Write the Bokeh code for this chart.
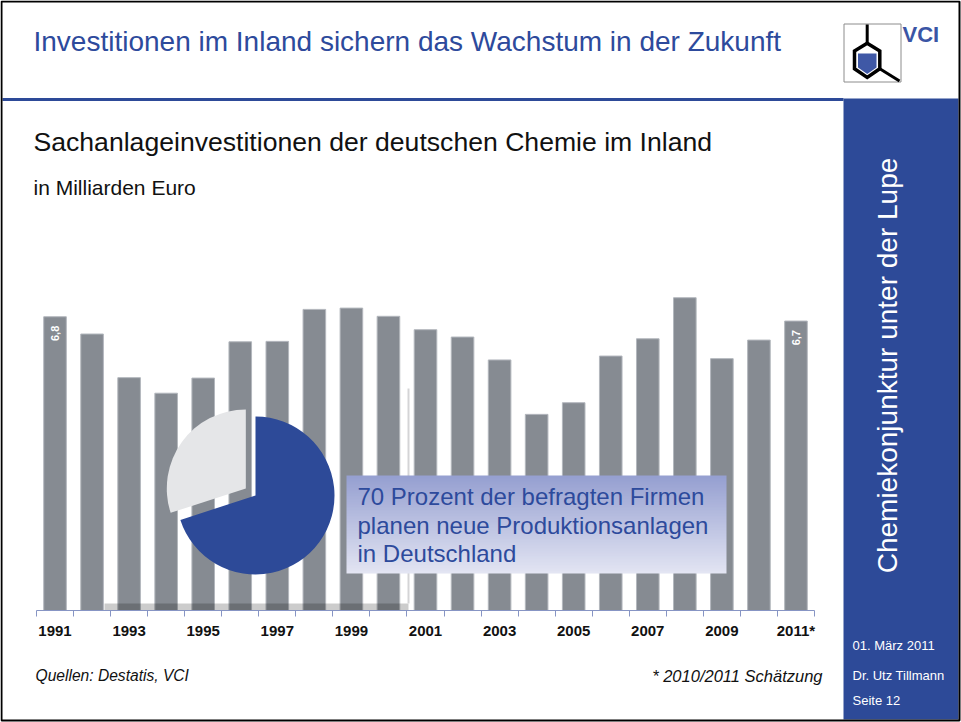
import numpy as np
from math import pi, cos, sin
from bokeh.plotting import figure
from bokeh.models import Range1d, FixedTicker
from bokeh.core.properties import value
from bokeh.embed import file_html
from bokeh.resources import INLINE

# ---------------- data ----------------
years = [1991, 1992, 1993, 1994, 1995, 1996, 1997, 1998, 1999, 2000,
         2001, 2002, 2003, 2004, 2005, 2006, 2007, 2008, 2009, 2010, 2011]
investments = [6.8, 6.40, 5.39, 5.03, 5.38, 6.22, 6.23, 6.97, 7.00, 6.81,
               6.50, 6.33, 5.80, 4.54, 4.81, 5.89, 6.29, 7.24, 5.83, 6.26, 6.7]
tick_years = [1991, 1993, 1995, 1997, 1999, 2001, 2003, 2005, 2007, 2009, 2011]
tick_labels = ["1991", "1993", "1995", "1997", "1999", "2001", "2003",
               "2005", "2007", "2009", "2011*"]
pie_shares = [70, 30]          # Prozent der befragten Firmen
box_lines = ["70 Prozent der befragten Firmen",
             "planen neue Produktionsanlagen",
             "in Deutschland"]

# ---------------- style / layout ----------------
FONT = "Liberation Sans"
BLUE = "#2d4a98"
TITLE_BLUE = "#2d4a9c"
BAR = "#868b92"
W, H = 961, 722
FL, FR, FB = 36, 814, 610           # chart area in page pixels
PX_PER_UNIT = 43.2
X0, X1 = years[0] - 0.5, years[-1] + 0.5
SX = (FR - FL) / (X1 - X0)
SY = PX_PER_UNIT
XS = X0 - FL / SX                    # data x at page x = 0


def dx(px):
    return XS + px / SX


def dy(py):
    return (FB - py) / SY


p = figure(width=W, height=H, x_range=Range1d(dx(0), dx(W)),
           y_range=Range1d(dy(H), dy(0)),
           output_backend="svg", toolbar_location=None, y_axis_location=None,
           min_border=0, background_fill_color="white",
           border_fill_color="white", outline_line_color=None)
p.grid.grid_line_color = None

# bars
p.vbar(x=years, top=investments, width=0.61, bottom=0,
       fill_color=BAR, line_color="#b3b7bd", line_width=1)

# value labels on first and last bar
lab_x = [years[0], years[-1]]
lab_y = [investments[0], investments[-1]]
lab_t = [f"{v:.1f}".replace(".", ",") for v in lab_y]
p.text(x=lab_x, y=lab_y, text=lab_t, angle=pi / 2, text_align="right",
       text_baseline="middle", y_offset=9, text_color="white",
       text_font=value(FONT), text_font_style="bold", text_font_size="11px")

# translucent panel shadow behind pie
p.quad(left=dx(104), right=dx(408), bottom=dy(610), top=dy(603),
       fill_color="black", fill_alpha=0.2, line_color=None)
p.segment(x0=dx(408), y0=dy(388), x1=dx(408), y1=dy(603),
          line_color="#d4d4d6", line_width=2)

# pie chart (70 / 30, second slice exploded)
total = float(sum(pie_shares))
cx, cy = dx(255), dy(495)
start = pi / 2
pie_cols = [BLUE, "#e5e6e8"]
for i, share in enumerate(pie_shares):
    end = start - 2 * pi * share / total
    mid = (start + end) / 2
    off = 0 if i == 0 else 12
    p.wedge(x=[cx + cos(mid) * off / SX], y=[cy + sin(mid) * off / SY],
            radius=79, radius_units="screen", start_angle=start, end_angle=end,
            direction="clock", fill_color=pie_cols[i], line_color=None)
    start = end

# gradient text box
rows = 64
img = np.empty((rows, 1), dtype=np.uint32)
view = img.view(dtype=np.uint8).reshape((rows, 1, 4))
top_c = np.array([150, 160, 209])
bot_c = np.array([227, 229, 243])
for r in range(rows):
    t = r / (rows - 1)
    c = bot_c + (top_c - bot_c) * t
    view[r, 0, 0:3] = c.astype(np.uint8)
    view[r, 0, 3] = 255
p.image_rgba(image=[img], x=dx(346), y=dy(573), dw=dx(726) - dx(346),
             dh=dy(475) - dy(573))
p.text(x=[dx(357)] * 3, y=[dy(496), dy(524.5), dy(553)], text=box_lines,
       text_font=value(FONT), text_font_size="24px", text_color=TITLE_BLUE,
       text_baseline="middle")

# axis (fixed at value 0, limited to the bar range)
ax = p.xaxis[0]
ax.fixed_location = 0
ax.bounds = (X0, X1)
ax.ticker = FixedTicker(ticks=tick_years,
                        minor_ticks=[y - 0.5 for y in years] + [years[-1] + 0.5])
ax.major_label_overrides = dict(zip(tick_years, tick_labels))
ax.axis_line_color = "#8795c4"
ax.major_tick_line_color = None
ax.major_tick_out = 0
ax.major_tick_in = 0
ax.minor_tick_line_color = "#8795c4"
ax.minor_tick_out = 6
ax.minor_tick_in = 0
ax.major_label_standoff = 5
ax.major_label_text_font = FONT
ax.major_label_text_font_size = "15px"
ax.major_label_text_font_style = "bold"
ax.major_label_text_color = "#111111"

# ---------------- slide decorations ----------------
def rect(l, r, t, b, **kw):
    p.quad(left=dx(l), right=dx(r), top=dy(t), bottom=dy(b), **kw)


rect(2, 843, 97.5, 100.5, fill_color=BLUE, line_color=None)        # header rule
rect(843, 958, 98, 719, fill_color=BLUE, line_color=None)           # sidebar
rect(1, 959, 1, 720, fill_alpha=0, line_color="black", line_width=2)  # slide frame

# logo
rect(843.5, 900.5, 23.5, 81.5, fill_alpha=0, line_color="#8c8c8c", line_width=1)
p.patch(x=[dx(v) for v in (857.5, 876, 876, 866.7, 857.5)],
        y=[dy(v) for v in (53, 53, 67, 73.5, 67)],
        fill_color="#3f58a6", line_color=None)
hx = [866.7, 879.3, 879.3, 866.7, 854, 854, 866.7]
hy = [42.7, 50.5, 68.3, 77, 68.3, 50.5, 42.7]
p.line(x=[dx(v) for v in hx], y=[dy(v) for v in hy], line_color="black",
       line_width=3.5, line_join="miter")
p.segment(x0=[dx(866.7), dx(879.3)], y0=[dy(24), dy(68.3)],
          x1=[dx(866.7), dx(899)], y1=[dy(42.7), dy(80.5)],
          line_color="black", line_width=3)


def txt(px, py, s, size, color="#111111", style="normal", align="left",
        baseline="middle", angle=0.0):
    p.text(x=[dx(px)], y=[dy(py)], text=[s], text_font=value(FONT),
           text_font_size=size, text_color=color, text_font_style=style,
           text_align=align, text_baseline=baseline, angle=angle)


txt(902, 34, "VCI", "22px", color="#3a55a5", style="bold")
txt(33, 41, "Investitionen im Inland sichern das Wachstum in der Zukunft", "28px",
    color=TITLE_BLUE)
txt(33, 141.5, "Sachanlageinvestitionen der deutschen Chemie im Inland", "26.6px")
txt(33, 187, "in Milliarden Euro", "21px")
txt(35, 675, "Quellen: Destatis, VCI", "15.6px", style="italic")
txt(822, 675, "* 2010/2011 Schätzung", "16.5px", style="italic", align="right")
txt(887, 365, "Chemiekonjunktur unter der Lupe", "28px", color="white",
    align="center", angle=pi / 2)
for s, yy in [("01. März 2011", 645), ("Dr. Utz Tillmann", 675), ("Seite 12", 700)]:
    txt(852, yy, s, "13px", color="white")

open("out.html", "w").write(file_html(p, INLINE))
